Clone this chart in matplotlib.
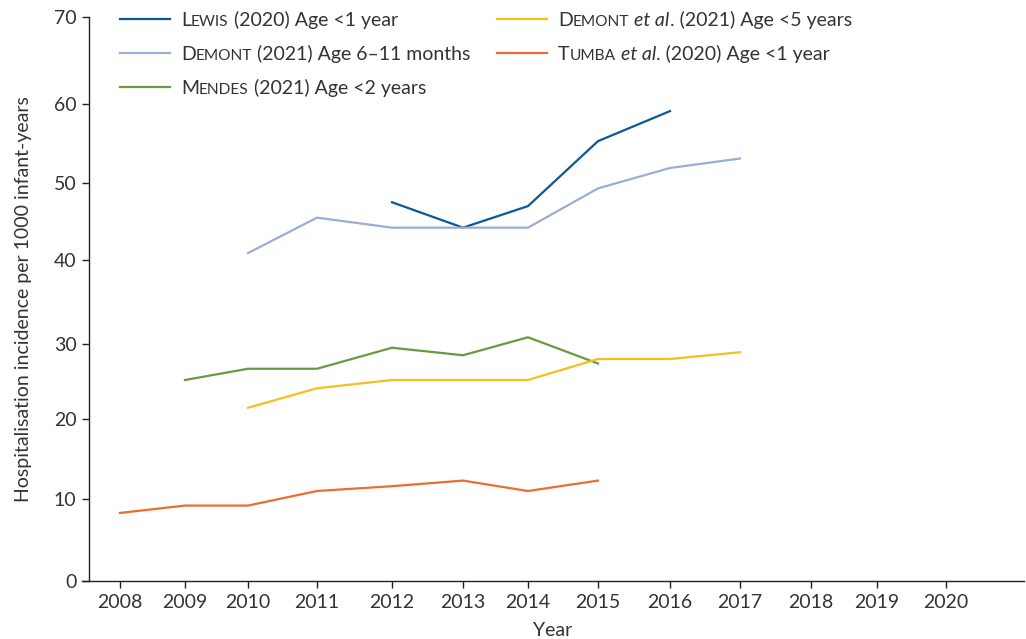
import numpy as np
import matplotlib
matplotlib.use("Agg")
import matplotlib.pyplot as plt
from matplotlib.lines import Line2D
from matplotlib.offsetbox import TextArea, HPacker, DrawingArea, AnnotationBbox

plt.rcParams['font.family'] = ['Lato', 'DejaVu Sans']

# data
lewis_years = [2012, 2013, 2014, 2015, 2016]
lewis_vals = [47.5, 44.2, 47.0, 55.3, 59.1]

demont611_years = [2010, 2011, 2012, 2013, 2014, 2015, 2016, 2017]
demont611_vals = [40.9, 45.5, 44.2, 44.2, 44.2, 49.3, 51.9, 53.1]

mendes_years = [2009, 2010, 2011, 2012, 2013, 2014, 2015]
mendes_vals = [25.2, 26.7, 26.7, 29.5, 28.5, 30.8, 27.4]

demont5_years = [2010, 2011, 2012, 2013, 2014, 2015, 2016, 2017]
demont5_vals = [21.5, 24.1, 25.2, 25.2, 25.2, 28.0, 28.0, 28.9]

tumba_years = [2008, 2009, 2010, 2011, 2012, 2013, 2014, 2015]
tumba_vals = [8.3, 9.2, 9.2, 11.0, 11.6, 12.3, 11.0, 12.3]

x_ticks = list(range(2008, 2021))
y_ticks = [0, 10, 20, 30, 40, 50, 60, 70]

# the original axes are drawn by hand, ticks are not evenly spaced
x_anchor_years = [2007] + x_ticks + [2022]
x_anchor_px = [51, 120, 185, 248, 317, 392, 463, 528, 598, 670, 740, 811, 877, 946, 1084]
y_anchor_vals = [-10] + y_ticks + [80]
y_anchor_px = [663, 581, 499, 419, 344, 260, 183, 104, 17, -70]

def xfwd(v):
    return np.interp(v, x_anchor_years, x_anchor_px)

def xinv(p):
    return np.interp(p, x_anchor_px, x_anchor_years)

ypx_neg = [-p for p in y_anchor_px]

def yfwd(v):
    return np.interp(v, y_anchor_vals, ypx_neg)

def yinv(p):
    return np.interp(p, ypx_neg, y_anchor_vals)

W, H = 1026, 639
fig = plt.figure(figsize=(W / 100, H / 100), dpi=100)
ax = fig.add_axes([82 / W, (H - 581) / H, (1024 - 82) / W, (581 - 17) / H])

ax.set_xscale('function', functions=(xfwd, xinv))
ax.set_yscale('function', functions=(yfwd, yinv))
ax.set_xlim(xinv(82), xinv(1024))
ax.set_ylim(0, 70)

c_lewis = '#0c5895'
c_dem611 = '#9aaed4'
c_mendes = '#6a9a3f'
c_dem5 = '#f6bf1c'
c_tumba = '#ef6c2f'

lw = 1.6
ax.plot(lewis_years, lewis_vals, color=c_lewis, lw=lw)
ax.plot(demont611_years, demont611_vals, color=c_dem611, lw=lw)
ax.plot(mendes_years, mendes_vals, color=c_mendes, lw=lw)
ax.plot(demont5_years, demont5_vals, color=c_dem5, lw=lw)
ax.plot(tumba_years, tumba_vals, color=c_tumba, lw=lw)

for s in ['top', 'right']:
    ax.spines[s].set_visible(False)
ax.spines['left'].set_position(('data', xinv(89)))
for s in ['left', 'bottom']:
    ax.spines[s].set_color('#222222')
    ax.spines[s].set_linewidth(1.0)

fs = 14

ax.set_xticks(x_ticks)
ax.set_xticklabels([str(y) for y in x_ticks])
ax.set_yticks(y_ticks)
ax.set_yticklabels([str(v) for v in y_ticks])
ax.xaxis.set_minor_locator(matplotlib.ticker.NullLocator())
ax.yaxis.set_minor_locator(matplotlib.ticker.NullLocator())
ax.tick_params(direction='out', length=5, width=1, color='#222222',
               labelsize=fs, labelcolor='#333333', pad=4)

ax.set_xlabel('Year', fontsize=fs, color='#333333', labelpad=8)
ax.set_ylabel('Hospitalisation incidence per 1000 infant-years', fontsize=fs,
              color='#333333', labelpad=16)

# legend with small caps, built by hand
sc = 11.2
tc = '#333333'

def entry(color, parts):
    da = DrawingArea(36, 10, 0, 0)
    da.add_artist(Line2D([0, 36], [5, 5], color=color, lw=lw))
    texts = []
    for txt, size, style in parts:
        texts.append(TextArea(txt, textprops=dict(size=size, style=style, color=tc)))
    row = HPacker(children=texts, align='baseline', pad=0, sep=0)
    return HPacker(children=[da, row], align='baseline', pad=0, sep=8)

legend_rows = [
    (120, 20, c_lewis, [('L', fs, 'normal'), ('EWIS', sc, 'normal'),
                        (' (2020) Age <1 year', fs, 'normal')]),
    (120, 54, c_dem611, [('D', fs, 'normal'), ('EMONT', sc, 'normal'),
                         (' (2021) Age 6\u201311 months', fs, 'normal')]),
    (120, 88, c_mendes, [('M', fs, 'normal'), ('ENDES', sc, 'normal'),
                         (' (2021) Age <2 years', fs, 'normal')]),
    (497, 20, c_dem5, [('D', fs, 'normal'), ('EMONT', sc, 'normal'),
                       (' ', fs, 'normal'), ('et al', fs, 'italic'),
                       ('. (2021) Age <5 years', fs, 'normal')]),
    (497, 54, c_tumba, [('T', fs, 'normal'), ('UMBA', sc, 'normal'),
                        (' ', fs, 'normal'), ('et al', fs, 'italic'),
                        ('. (2020) Age <1 year', fs, 'normal')]),
]

for x0, y0, col, parts in legend_rows:
    ab = AnnotationBbox(entry(col, parts), (x0, H - y0), xycoords='figure pixels',
                        box_alignment=(0, 0.5), frameon=False, pad=0)
    fig.add_artist(ab)

fig.savefig('out.png', dpi=100)
